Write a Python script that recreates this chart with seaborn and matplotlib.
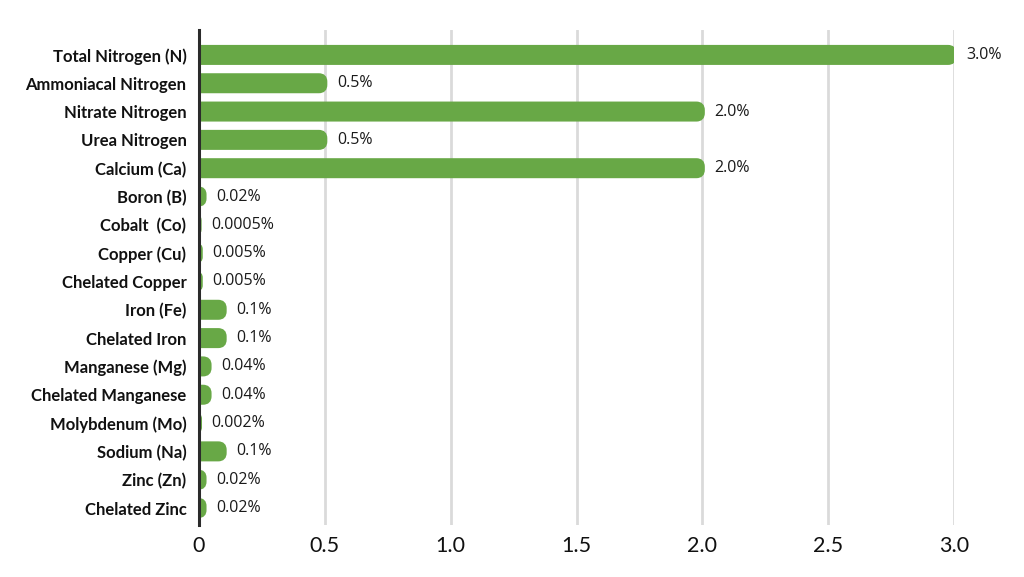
"""
Horizontal bar chart of nutrient content (guaranteed analysis).
"""

import matplotlib
matplotlib.use('Agg')
import matplotlib.pyplot as plt
from matplotlib.patches import FancyBboxPatch
import seaborn as sns
import pandas as pd

nutrients = ['Total Nitrogen (N)', 'Ammoniacal Nitrogen', 'Nitrate Nitrogen', 'Urea Nitrogen',
             'Calcium (Ca)', 'Boron (B)', 'Cobalt  (Co)', 'Copper (Cu)', 'Chelated Copper',
             'Iron (Fe)', 'Chelated Iron', 'Manganese (Mg)', 'Chelated Manganese',
             'Molybdenum (Mo)', 'Sodium (Na)', 'Zinc (Zn)', 'Chelated Zinc']
percent = [3.0, 0.5, 2.0, 0.5, 2.0, 0.02, 0.0005, 0.005, 0.005,
           0.1, 0.1, 0.04, 0.04, 0.002, 0.1, 0.02, 0.02]
value_labels = ['3.0%', '0.5%', '2.0%', '0.5%', '2.0%', '0.02%', '0.0005%', '0.005%', '0.005%',
                '0.1%', '0.1%', '0.04%', '0.04%', '0.002%', '0.1%', '0.02%', '0.02%']
x_ticks = [0, 0.5, 1.0, 1.5, 2.0, 2.5, 3.0]
x_ticklabels = ['0', '0.5', '1.0', '1.5', '2.0', '2.5', '3.0']

df = pd.DataFrame({'nutrient': nutrients, 'percent': percent})
green = '#68a846'

sns.set_style('white')
fig = plt.figure(figsize=(10.24, 5.77), dpi=100)
ax = fig.add_axes([199 / 1024, 1 - 525 / 577, (954 - 199) / 1024, 495 / 577])

sns.barplot(data=df, x='percent', y='nutrient', color=green, width=0.53,
            saturation=1, orient='h', ax=ax)

ax.set_xlim(0, 3.0)
ax.set_ylim(16.6, -0.88)

# swap the plain bars for ones with a rounded right end
px_x = 3.0 / 755.0           # data units per pixel, x
px_y = 17.48 / 495.0         # data units per pixel, y
aspect = px_y / px_x
R = 6 * px_x
for p in list(ax.patches):
    x, y, w, h = p.get_x(), p.get_y(), p.get_width(), p.get_height()
    p.remove()
    r = min(R, (w + R) / 2, h / aspect / 2)
    box = FancyBboxPatch((-R, y), w + R, h,
                         boxstyle=f'round,pad=0,rounding_size={r}',
                         mutation_aspect=aspect, facecolor=green,
                         edgecolor=green, linewidth=3.6, zorder=3)
    ax.add_patch(box)

for i, (v, lab) in enumerate(zip(percent, value_labels)):
    ax.text(v + 12 * px_x, i, lab, va='center', ha='left', fontsize=11.5,
            family='Open Sans', color='#1a1a1a', clip_on=False)

ax.set_xticks(x_ticks)
ax.set_xticklabels(x_ticklabels, family='Lato', fontsize=15.5, color='#111111')
ax.set_yticks(range(len(nutrients)))
ax.set_yticklabels(nutrients, family='Lato', fontweight='bold', fontsize=12, color='#111111')
ax.tick_params(axis='both', length=0)
ax.tick_params(axis='y', pad=9)
ax.tick_params(axis='x', pad=8)
ax.set_xlabel('')
ax.set_ylabel('')

ax.grid(False)
for xv in x_ticks[1:]:
    ax.axvline(xv, color='#dadada', linewidth=2, zorder=1)

for side in ['top', 'right', 'bottom']:
    ax.spines[side].set_visible(False)
ax.spines['left'].set_color('#2b2b2b')
ax.spines['left'].set_linewidth(2.2)
ax.spines['left'].set_zorder(5)

fig.savefig('out.png', dpi=100)
